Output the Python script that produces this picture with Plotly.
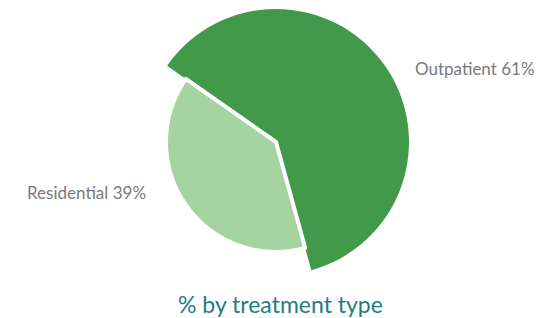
import plotly.graph_objects as go

categories = ["Outpatient", "Residential"]
values = [61, 39]
colors = ["#43994a", "#a6d4a0"]
title_text = "% by treatment type"

OFF = 8                     # page body margin offset
W, H = 558 - OFF, 318 - OFF
cx, cy = 276 - OFF, 142 - OFF   # pie centre in pixels (from top)
radii = [133, 110]               # outer radius of each slice

def dom(r):
    return dict(x=[(cx - r) / W, (cx + r) / W],
                y=[(H - cy - r) / H, (H - cy + r) / H])

fig = go.Figure()
for i, (cat, r) in enumerate(zip(categories, radii)):
    cols = ["rgba(0,0,0,0)"] * len(categories)
    cols[i] = colors[i]
    widths = [0] * len(categories)
    widths[i] = 4 if i == 1 else 0
    fig.add_trace(go.Pie(
        labels=categories, values=values, sort=False,
        direction="clockwise", rotation=305,
        marker=dict(colors=cols, line=dict(color="white", width=widths)),
        textinfo="none", hoverinfo="label+percent",
        domain=dom(r), showlegend=False,
    ))

label_pos = [(413, 68, "left"), (148, 192, "right")]
for cat, v, (x, y, anc) in zip(categories, values, label_pos):
    fig.add_annotation(
        text=f"{cat} {v}%", x=(x - OFF) / W, y=1 - (y - OFF) / H,
        xref="paper", yref="paper",
        xanchor=anc, yanchor="middle", showarrow=False,
        font=dict(family="Lato", size=17, color="#7a7a7a"),
    )

fig.add_annotation(
    text=title_text, x=(280 - OFF) / W, y=1 - (304 - OFF) / H,
    xref="paper", yref="paper",
    xanchor="center", yanchor="middle", showarrow=False,
    font=dict(family="Lato", size=23, color="#1f7d7f"),
)

fig.update_layout(
    width=W, height=H, margin=dict(l=0, r=0, t=0, b=0),
    paper_bgcolor="white", plot_bgcolor="white",
)
fig.write_html("out.html")
